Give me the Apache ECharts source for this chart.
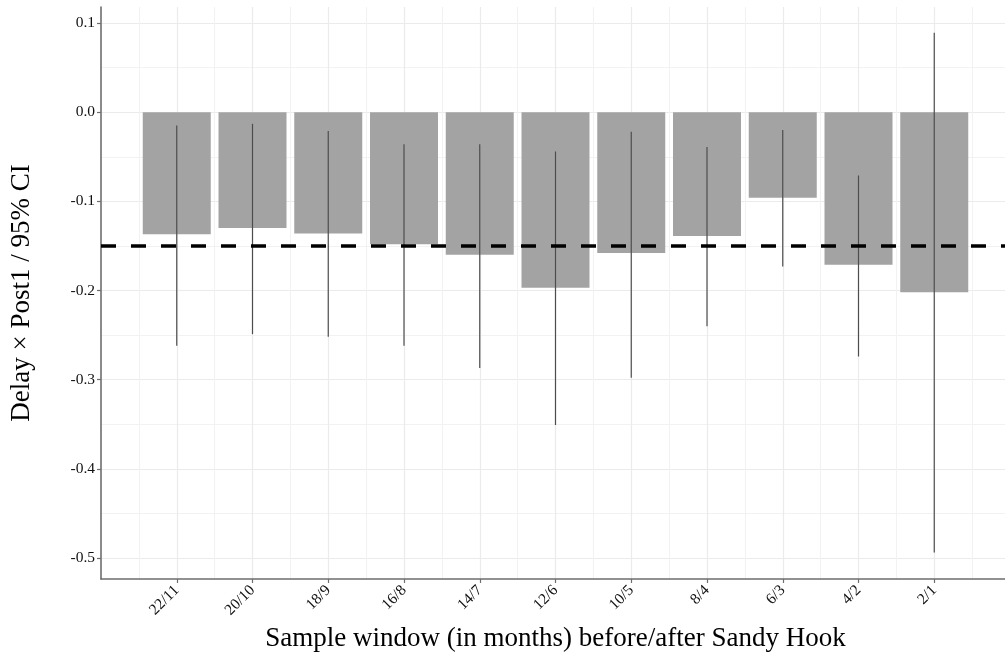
<!DOCTYPE html>
<html>
<head>
<meta charset="utf-8">
<script src="https://cdn.jsdelivr.net/npm/echarts@6/dist/echarts.min.js"></script>
<style>
html,body{margin:0;padding:0;background:#fff;}
#chart{width:1005px;height:652px;}
</style>
</head>
<body>
<div id="chart"></div>
<script>
// ---- data ----
const categories = ["22/11","20/10","18/9","16/8","14/7","12/6","10/5","8/4","6/3","4/2","2/1"];
const estimates = [-0.137, -0.130, -0.136, -0.148, -0.160, -0.197, -0.158, -0.139, -0.096, -0.171, -0.202];
const ciLow  = [-0.262, -0.249, -0.252, -0.262, -0.287, -0.351, -0.298, -0.240, -0.173, -0.274, -0.494];
const ciHigh = [-0.015, -0.013, -0.021, -0.036, -0.036, -0.044, -0.022, -0.039, -0.020, -0.071, 0.089];
const referenceLine = -0.149;
const yTicks = [-0.5, -0.4, -0.3, -0.2, -0.1, 0.0, 0.1];
const yMinor = [-0.45, -0.35, -0.25, -0.15, -0.05, 0.05];

// ---- build ----
const xMajor = categories.map((c, i) => i + 1);
const xMinor = [];
for (let i = 0; i <= categories.length; i++) xMinor.push(i + 0.5);
const barData = estimates.map((v, i) => [i + 1, v]);
const errData = categories.map((c, i) => [i + 1, ciLow[i], ciHigh[i]]);

const FONT = "'Liberation Serif', 'DejaVu Serif', serif";
const axisGrey = '#6e6e6e';
const yMin = -0.5236, yMax = 0.118;

const chart = echarts.init(document.getElementById('chart'), null, {renderer: 'canvas'});
chart.setOption({
  backgroundColor: '#ffffff',
  animation: false,
  grid: {left: 101, right: -5, top: 7, bottom: 73, containLabel: false, outerBoundsMode: 'none'},
  xAxis: [{
    type: 'value', min: 0, max: 12,
    name: 'Sample window (in months) before/after Sandy Hook',
    nameLocation: 'middle', nameGap: 43,
    nameTextStyle: {fontFamily: FONT, fontSize: 27, color: '#000'},
    axisLine: {show: true, onZero: false, lineStyle: {color: axisGrey, width: 1.6}},
    axisTick: {show: true, customValues: xMajor, length: 4, lineStyle: {color: axisGrey, width: 1.2}},
    axisLabel: {customValues: xMajor, rotate: 45, margin: 9, fontFamily: FONT, fontSize: 15.5, color: '#111',
      formatter: v => categories[Math.round(v) - 1] || ''},
    splitLine: {show: true, lineStyle: {color: '#ebebeb', width: 1.2}}
  }, {
    type: 'value', min: 0, max: 12, position: 'bottom',
    axisLine: {show: false}, axisLabel: {show: false},
    axisTick: {show: false, customValues: xMinor},
    splitLine: {show: true, lineStyle: {color: '#f2f2f2', width: 1}}
  }],
  yAxis: [{
    type: 'value', min: yMin, max: yMax,
    name: 'Delay × Post1 / 95% CI',
    nameLocation: 'middle', nameGap: 66,
    nameTextStyle: {fontFamily: FONT, fontSize: 27, color: '#000'},
    axisLine: {show: true, onZero: false, lineStyle: {color: axisGrey, width: 1.6}},
    axisTick: {show: true, customValues: yTicks, length: 4, lineStyle: {color: axisGrey, width: 1.2}},
    axisLabel: {customValues: yTicks, margin: 6, fontFamily: FONT, fontSize: 15.5, color: '#111',
      formatter: v => v.toFixed(1)},
    splitLine: {show: true, lineStyle: {color: '#ebebeb', width: 1.2}}
  }, {
    type: 'value', min: yMin, max: yMax, position: 'left',
    axisLine: {show: false}, axisLabel: {show: false},
    axisTick: {show: false, customValues: yMinor},
    splitLine: {show: true, lineStyle: {color: '#f2f2f2', width: 1}}
  }],
  series: [{
    type: 'bar',
    xAxisIndex: 0, yAxisIndex: 0,
    data: barData,
    barWidth: 68,
    itemStyle: {color: '#a3a3a3'},
    z: 2,
    silent: true
  }, {
    type: 'custom',
    xAxisIndex: 0, yAxisIndex: 0,
    data: errData,
    z: 3,
    silent: true,
    encode: {x: 0, y: [1, 2]},
    renderItem: function (params, api) {
      const x = api.value(0);
      const p1 = api.coord([x, api.value(1)]);
      const p2 = api.coord([x, api.value(2)]);
      return {
        type: 'line',
        shape: {x1: p1[0], y1: p1[1], x2: p2[0], y2: p2[1]},
        style: {stroke: '#4d4d4d', lineWidth: 1.2}
      };
    },
    markLine: {
      silent: true,
      symbol: 'none',
      label: {show: false},
      lineStyle: {type: [15, 15], color: '#000', width: 3.5},
      data: [{yAxis: referenceLine}]
    }
  }]
});
</script>
</body>
</html>
